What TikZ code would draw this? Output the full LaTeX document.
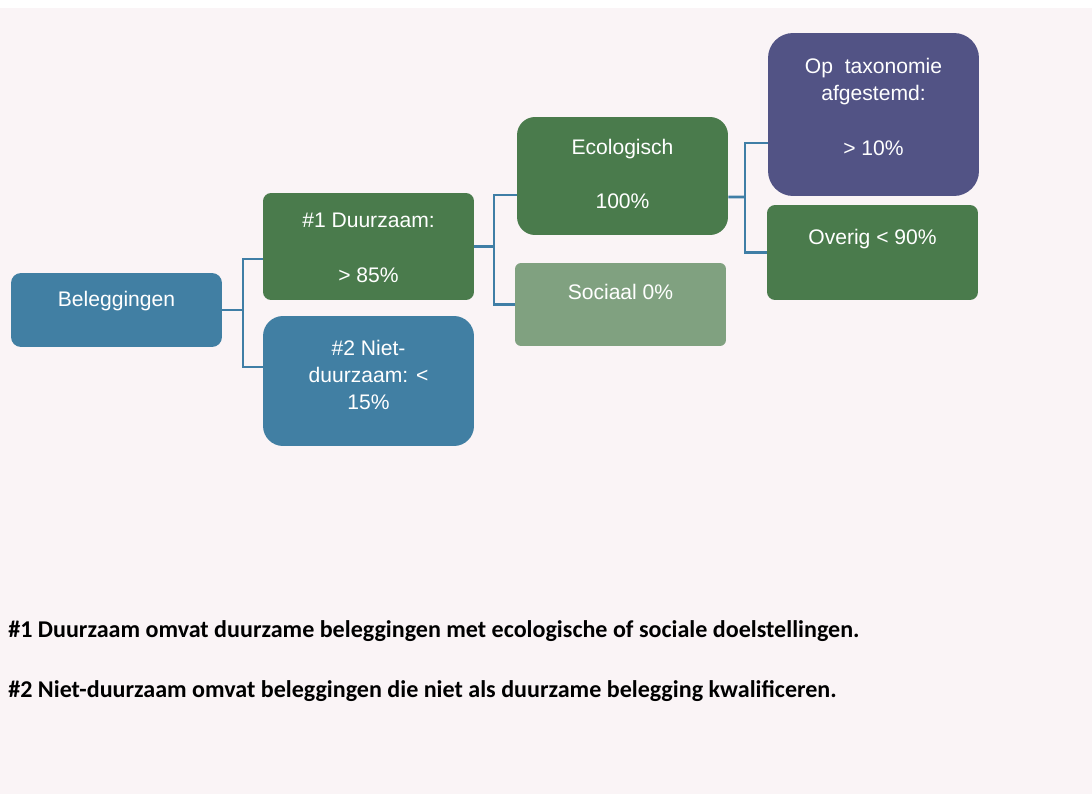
\documentclass[tikz,border=0pt]{standalone}
\usepackage{fontspec}
\setmainfont{Liberation Sans}
\newfontfamily\notefont{Carlito}
\usepackage{tikz}
\usetikzlibrary{positioning}

\definecolor{bgpink}{HTML}{FAF4F6}
\definecolor{boxblue}{HTML}{417FA3}
\definecolor{boxgreen}{HTML}{4A7B4C}
\definecolor{boxlight}{HTML}{80A180}
\definecolor{boxpurple}{HTML}{525385}
\definecolor{linkblue}{HTML}{3F7EA6}

\begin{document}
\begin{tikzpicture}[x=0.02cm,y=-0.02cm,
  box/.style={rectangle,minimum width=4.22cm,inner sep=0pt},
  lbl/.style={text=white,align=center,inner sep=0pt,font=\fontsize{12}{15.6}\selectfont},
  conn/.style={draw=linkblue,line width=1.5pt},
  note/.style={anchor=west,inner sep=0pt,font=\notefont\bfseries\fontsize{13.7}{16}\selectfont}]
\fill[white] (0,0) rectangle (1092,794);
\fill[bgpink] (0,8) rectangle (1092,794);%背景
\foreach \name/\x/\y/\h/\r/\col in
  {bel/116.5/310/1.48/0.2/boxblue, d1/368.5/246.5/2.14/0.16/boxgreen,
   d2/368.5/381/2.6/0.4/boxblue, eco/622.5/176/2.36/0.36/boxgreen,
   soc/620.5/304.5/1.66/0.12/boxlight, tax/873.5/114.5/3.26/0.5/boxpurple,
   ove/872.5/252.5/1.9/0.16/boxgreen}
  \node[box,fill=\col,minimum height=\h cm,rounded corners=\r cm] (\name) at (\x,\y) {};
\node[lbl] (bel-t) at (116.5,301) {Beleggingen};
\node[lbl] (d1-t) at (368.5,248) {\#1 Duurzaam:\\[15.6pt]> 85\%};
\node[lbl] (d2-t) at (368.5,375) {\#2 Niet-\\duurzaam: <\\15\%};
\node[lbl] (eco-t) at (622.5,174) {Ecologisch\\[15.6pt]100\%};
\node[lbl] (soc-t) at (620.5,292) {Sociaal 0\%};
\node[lbl] (tax-t) at (873.5,107) {Op~~taxonomie\\afgestemd:\\[15.6pt]> 10\%};
\node[lbl] (ove-t) at (872.5,239) {Overig < 90\%};
% verbindingen
\coordinate (f1) at (243,310);
\coordinate (f2) at (494,246.5);
\coordinate (f3) at (745,197);
\draw[conn] (bel.east) -- (f1);
\draw[conn] ([yshift=-0.25cm]d1.west) -| (f1) |- ([yshift=0.28cm]d2.west);
\draw[conn] (d1.east) -- (f2);
\draw[conn] ([yshift=-0.38cm]eco.west) -| (f2) |- (soc.west);
\draw[conn] ([yshift=-0.42cm]eco.east) -- (f3);
\draw[conn] ([yshift=-0.57cm]tax.west) -| (f3) |- (ove.west);
\node[note] (n1) at (8,631) {\#1 Duurzaam omvat duurzame beleggingen met ecologische of sociale doelstellingen.};%注
\node[note] (n2) at (8,691) {\#2 Niet-duurzaam omvat beleggingen die niet als duurzame belegging kwalificeren.};
\end{tikzpicture}
\end{document}
